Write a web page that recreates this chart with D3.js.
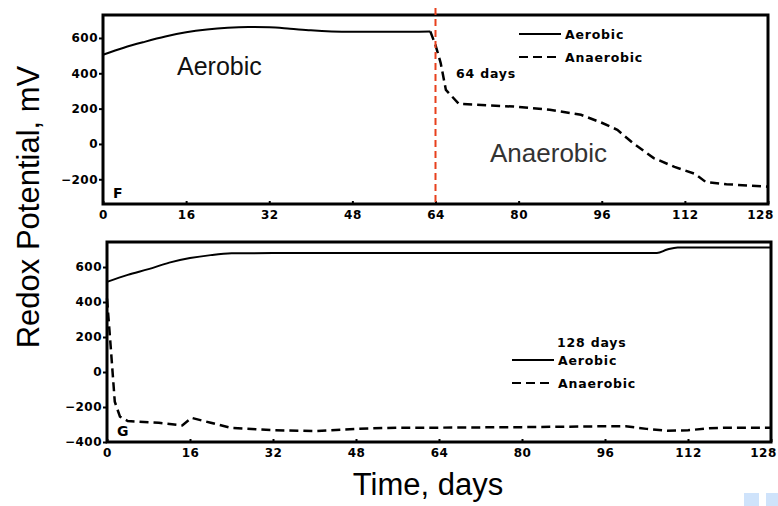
<!DOCTYPE html>
<html>
<head>
<meta charset="utf-8">
<script src="https://cdn.jsdelivr.net/npm/d3@7"></script>
<style>
  body { margin: 0; background: #fff; }
  .tick text { font-family: "DejaVu Sans", sans-serif; font-weight: bold; font-size: 12px; letter-spacing: 0.5px; }
  .leg { font-family: "DejaVu Sans", sans-serif; font-weight: bold; font-size: 12.5px; letter-spacing: 0.8px; }
</style>
</head>
<body>
<div id="chart"></div>
<script>
// Panel F: 64 days aerobic, then anaerobic
const daysAerF = [0, 4, 8, 12, 16, 20, 24, 28, 32, 36, 40, 44, 48, 56, 63];
const aerF = [505, 545, 578, 608, 632, 648, 658, 662, 660, 652, 643, 637, 635, 635, 637];
const daysAnF = [63, 64, 65, 66, 68.5, 72, 80, 86, 92, 96, 99, 102, 106, 110, 114, 116, 120, 128];
const anF = [637, 560, 458, 306, 227, 222, 210, 193, 165, 120, 80, 5, -80, -130, -170, -215, -228, -242];

// Panel G: 128 days
const daysAerG = [0, 4, 8, 12, 16, 20, 24, 32, 48, 64, 80, 96, 106, 108, 110, 128];
const aerG = [515, 555, 588, 625, 651, 668, 678, 680, 680, 680, 680, 680, 680, 700, 712, 712];
const daysAnG = [0, 0.7, 1.5, 2.5, 4, 10, 14.5, 16.3, 20, 24, 32, 40, 48, 56, 64, 80, 96, 100, 104, 108, 112, 116, 120, 128];
const anG = [420, 150, -170, -255, -280, -290, -305, -262, -290, -320, -332, -338, -325, -318, -318, -315, -310, -310, -325, -335, -333, -322, -318, -318];

const xTicks = [0, 16, 32, 48, 64, 80, 96, 112, 128];
const yTicksF = [-200, 0, 200, 400, 600];
const yTicksG = [-400, -200, 0, 200, 400, 600];

const W = 778, H = 506;
const svg = d3.select("#chart").append("svg")
    .attr("width", W).attr("height", H);

function panel(opt) {
    const x = d3.scaleLinear().domain([0, 128]).range(opt.xr);
    const y = d3.scaleLinear().domain(opt.yd).range(opt.yr);
    const g = svg.append("g");

    // frame
    g.append("rect")
     .attr("x", opt.xr[0]).attr("y", opt.yr[1])
     .attr("width", opt.xr[1] - opt.xr[0]).attr("height", opt.yr[0] - opt.yr[1])
     .attr("fill", "none").attr("stroke", "#000").attr("stroke-width", 3);

    // axes
    const xa = g.append("g")
       .attr("transform", `translate(0,${opt.yr[0]})`)
       .call(d3.axisBottom(x).tickValues(xTicks).tickSize(-3).tickPadding(6));
    xa.select(".domain").remove();
    xa.selectAll(".tick line").attr("stroke-width", 2);
    // last label sits a bit left so it stays on the page
    xa.selectAll(".tick text").filter(d => d === 128).attr("dx", -8);

    const ya = g.append("g")
       .attr("transform", `translate(${opt.xr[0]},0)`)
       .call(d3.axisLeft(y).tickValues(opt.yTicks).tickSize(4).tickPadding(1));
    ya.select(".domain").remove();
    ya.selectAll(".tick line").attr("stroke-width", 2);

    const line = d3.line().x(d => x(d[0])).y(d => y(d[1])).curve(d3.curveMonotoneX);

    g.append("path")
     .datum(opt.aerDays.map((d, i) => [d, opt.aer[i]]))
     .attr("d", line)
     .attr("fill", "none").attr("stroke", "#000").attr("stroke-width", 2);

    g.append("path")
     .datum(opt.anDays.map((d, i) => [d, opt.an[i]]))
     .attr("d", d3.line().x(d => x(d[0])).y(d => y(d[1])))
     .attr("fill", "none").attr("stroke", "#000").attr("stroke-width", 2.5)
     .attr("stroke-dasharray", "9,5");

    g.append("text")
     .attr("x", opt.xr[0] + 10).attr("y", opt.yr[0] - 6)
     .attr("font-family", "DejaVu Sans, sans-serif").attr("font-weight", "bold")
     .attr("font-size", 14).text(opt.letter);

    return {x, y, g};
}

const pF = panel({
    xr: [103, 768], yr: [204, 15], yd: [-340, 730], yTicks: yTicksF,
    aerDays: daysAerF, aer: aerF, anDays: daysAnF, an: anF, letter: "F"
});
const pG = panel({
    xr: [107, 771], yr: [442, 242], yd: [-400, 743], yTicks: yTicksG,
    aerDays: daysAerG, aer: aerG, anDays: daysAnG, an: anG, letter: "G"
});

// red marker at 64 days
svg.append("line")
   .attr("x1", pF.x(64)).attr("x2", pF.x(64))
   .attr("y1", 8).attr("y2", 204)
   .attr("stroke", "#e8401c").attr("stroke-width", 2)
   .attr("stroke-dasharray", "7,4");

// legends
function legend(x0, y0, dy) {
    [["Aerobic", null], ["Anaerobic", "9,5"]].forEach((d, i) => {
        const yy = y0 + i * dy;
        svg.append("line")
           .attr("x1", x0).attr("x2", x0 + 42).attr("y1", yy).attr("y2", yy)
           .attr("stroke", "#000").attr("stroke-width", 2)
           .attr("stroke-dasharray", d[1]);
        svg.append("text").attr("class", "leg")
           .attr("x", x0 + 46).attr("y", yy + 4.5).text(d[0]);
    });
}
legend(519, 34, 23);
legend(512, 360, 23);

svg.append("text").attr("class", "leg")
   .attr("x", 456).attr("y", 78).text("64  days");
svg.append("text").attr("class", "leg")
   .attr("x", 557).attr("y", 347).text("128  days");

// overlay labels
svg.append("text")
   .attr("x", 177).attr("y", 75)
   .attr("font-family", "Liberation Sans, Arial, sans-serif").attr("font-size", 25)
   .attr("fill", "#111").text("Aerobic");
svg.append("text")
   .attr("x", 490).attr("y", 162)
   .attr("font-family", "Liberation Sans, Arial, sans-serif").attr("font-size", 26)
   .attr("fill", "#333").text("Anaerobic");

// axis titles
svg.append("text")
   .attr("transform", "translate(39,207) rotate(-90)")
   .attr("text-anchor", "middle")
   .attr("font-family", "Liberation Sans, Arial, sans-serif").attr("font-size", 31)
   .text("Redox Potential, mV");
svg.append("text")
   .attr("x", 428).attr("y", 495)
   .attr("text-anchor", "middle")
   .attr("font-family", "Liberation Sans, Arial, sans-serif").attr("font-size", 31)
   .text("Time, days");

// slide corner mark
svg.append("rect").attr("x", 744).attr("y", 493).attr("width", 15).attr("height", 13).attr("fill", "#cfe3fb");
svg.append("rect").attr("x", 766).attr("y", 493).attr("width", 12).attr("height", 13).attr("fill", "#cfe3fb");
</script>
</body>
</html>
